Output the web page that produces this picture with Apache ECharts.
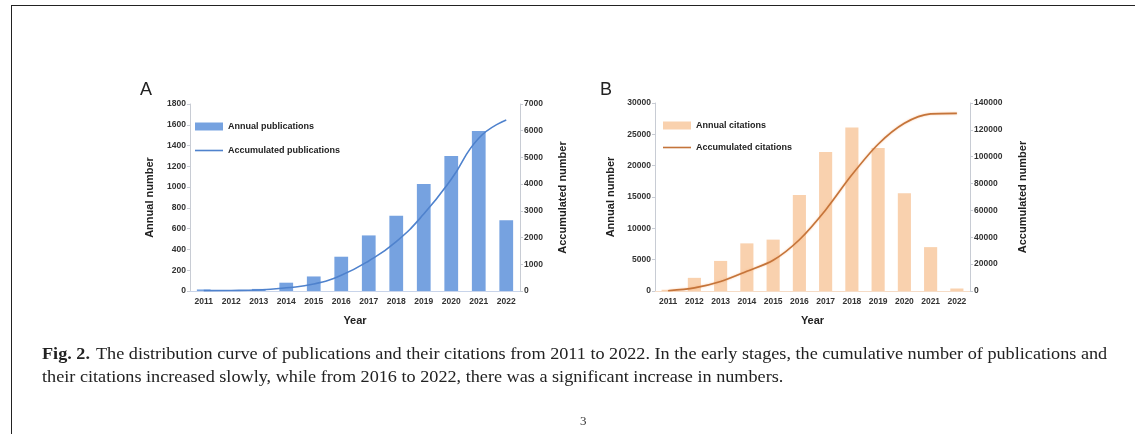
<!DOCTYPE html>
<html>
<head>
<meta charset="utf-8">
<script src="https://cdn.jsdelivr.net/npm/echarts@6/dist/echarts.min.js"></script>
<style>
  html, body { margin: 0; padding: 0; background: #fff; }
  #chart { width: 1135px; height: 434px; }
</style>
</head>
<body>
<div id="chart"></div>
<script>
// Years shared by both panels
const years = ['2011', '2012', '2013', '2014', '2015', '2016', '2017', '2018', '2019', '2020', '2021', '2022'];

// Panel A: publications
const annualPublications = [15, 5, 20, 80, 140, 330, 535, 725, 1030, 1300, 1540, 680];
const accumulatedPublications = [15, 20, 40, 120, 260, 590, 1125, 1850, 2880, 4180, 5720, 6400];

// Panel B: citations
const annualCitations = [200, 2100, 4800, 7600, 8200, 15300, 22200, 26100, 22800, 15600, 7000, 400];
const accumulatedCitations = [200, 2300, 7100, 14700, 22900, 38200, 60400, 86500, 109300, 124900, 131900, 132300];

// Caption
const captionBold = 'Fig. 2.';
const captionLine1 = 'The distribution curve of publications and their citations from 2011 to 2022. In the early stages, the cumulative number of publications and';
const captionLine2 = 'their citations increased slowly, while from 2016 to 2022, there was a significant increase in numbers.';
const pageNumber = '3';

const tickFont = { fontFamily: 'Liberation Sans, Arial', fontSize: 8.5, fontWeight: 'bold', color: '#333' };
const nameFont = { fontFamily: 'Liberation Sans, Arial', fontSize: 11, fontWeight: 'bold', color: '#222' };
const axisLine = { show: true, lineStyle: { color: '#c8ccd4', width: 1 } };
const axisTick = { show: true, length: 3, lineStyle: { color: '#c8ccd4' } };
const plainNumber = v => String(v);
// thin bar used as the legend key of the line series
const lineKey = 'path://M0,0H28V1.6H0Z';

function valueAxis(grid, pos, max, interval, name, gap) {
  return {
    type: 'value', gridIndex: grid, position: pos, min: 0, max: max, interval: interval,
    name: name, nameLocation: 'middle', nameGap: gap, nameRotate: 90, nameTextStyle: nameFont,
    axisLine: axisLine, axisTick: axisTick, splitLine: { show: false },
    axisLabel: Object.assign({ margin: 4, formatter: plainNumber }, tickFont)
  };
}

function categoryAxis(grid, lineColor) {
  return {
    type: 'category', gridIndex: grid, data: years,
    name: 'Year', nameLocation: 'middle', nameGap: 24, nameTextStyle: nameFont,
    axisLine: { show: true, lineStyle: { color: lineColor } }, axisTick: { show: false },
    axisLabel: Object.assign({ margin: 6, interval: 0 }, tickFont)
  };
}

const legendText = { fontFamily: 'Liberation Sans, Arial', fontSize: 9, fontWeight: 'bold', color: '#222' };
const captionFont = { fontFamily: 'Liberation Serif, Times New Roman', fontSize: 17, fill: '#222' };

const option = {
  animation: false,
  backgroundColor: '#fff',
  grid: [
    { left: 190, top: 104, width: 330, height: 187 },
    { left: 655, top: 103, width: 315, height: 188 }
  ],
  xAxis: [categoryAxis(0, '#c8d4ea'), categoryAxis(1, '#f6dcc6')],
  yAxis: [
    valueAxis(0, 'left', 1800, 200, 'Annual number', 35),
    valueAxis(0, 'right', 7000, 1000, 'Accumulated number', 37),
    valueAxis(1, 'left', 30000, 5000, 'Annual number', 39),
    valueAxis(1, 'right', 140000, 20000, 'Accumulated number', 47)
  ],
  legend: [
    {
      left: 190, top: 117, orient: 'vertical', itemGap: 15, itemWidth: 28, itemHeight: 8,
      textStyle: legendText,
      data: [{ name: 'Annual publications', icon: 'rect' }, { name: 'Accumulated publications', icon: lineKey }]
    },
    {
      left: 658, top: 116, orient: 'vertical', itemGap: 13, itemWidth: 28, itemHeight: 8,
      textStyle: legendText,
      data: [{ name: 'Annual citations', icon: 'rect' }, { name: 'Accumulated citations', icon: lineKey }]
    }
  ],
  series: [
    {
      name: 'Annual publications', type: 'bar', xAxisIndex: 0, yAxisIndex: 0,
      data: annualPublications, barWidth: '50%', itemStyle: { color: '#76a2e0' }
    },
    {
      name: 'Accumulated publications', type: 'line', xAxisIndex: 0, yAxisIndex: 1,
      data: accumulatedPublications, smooth: true, symbol: 'none',
      lineStyle: { color: '#4f82cd', width: 1.6 }, itemStyle: { color: '#4f82cd' }
    },
    {
      name: 'Annual citations', type: 'bar', xAxisIndex: 1, yAxisIndex: 2,
      data: annualCitations, barWidth: '50%', itemStyle: { color: '#f9d1ae' }
    },
    {
      name: 'Accumulated citations', type: 'line', xAxisIndex: 1, yAxisIndex: 3,
      data: accumulatedCitations, smooth: 0.3, symbol: 'none',
      lineStyle: { color: '#c4743a', width: 1.6, shadowColor: 'rgba(250,170,110,0.7)', shadowBlur: 2 },
      itemStyle: { color: '#c4743a' }
    }
  ],
  graphic: [
    // page frame
    { type: 'line', shape: { x1: 11, y1: 5.5, x2: 1135, y2: 5.5 }, style: { stroke: '#222', lineWidth: 1 } },
    { type: 'line', shape: { x1: 11.5, y1: 5, x2: 11.5, y2: 434 }, style: { stroke: '#222', lineWidth: 1 } },
    // panel letters
    { type: 'text', left: 140, top: 81, style: { text: 'A', fontFamily: 'Liberation Sans, Arial', fontSize: 18, fill: '#222' } },
    { type: 'text', left: 600, top: 81, style: { text: 'B', fontFamily: 'Liberation Sans, Arial', fontSize: 18, fill: '#222' } },
    // caption
    {
      type: 'text', x: 42, y: 346, scaleX: 1.07,
      style: Object.assign({ text: captionBold, fontWeight: 'bold' }, captionFont)
    },
    {
      type: 'text', x: 96, y: 346, scaleX: 1.07,
      style: Object.assign({ text: captionLine1 }, captionFont)
    },
    {
      type: 'text', x: 42, y: 369, scaleX: 1.07,
      style: Object.assign({ text: captionLine2 }, captionFont)
    },
    {
      type: 'text', left: 580, top: 415,
      style: { text: pageNumber, fontFamily: 'Liberation Serif, Times New Roman', fontSize: 13, fill: '#333' }
    }
  ]
};

const chart = echarts.init(document.getElementById('chart'), null, { renderer: 'canvas' });
chart.setOption(option);
</script>
</body>
</html>
